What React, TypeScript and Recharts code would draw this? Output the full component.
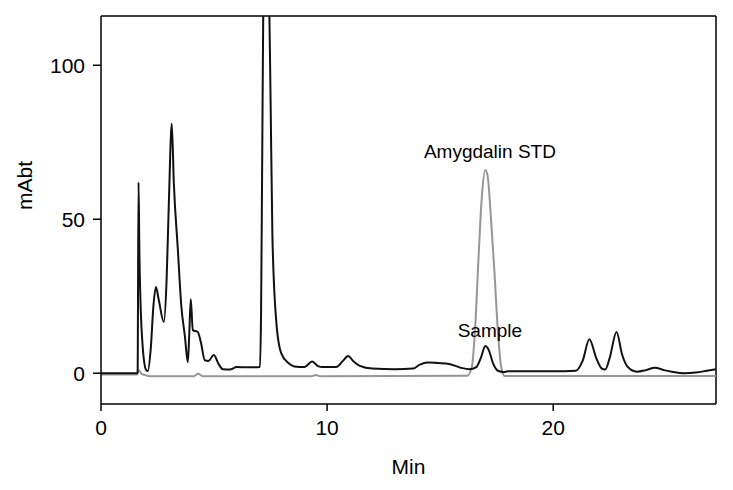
import {
  LineChart,
  Line,
  XAxis,
  YAxis,
  ReferenceLine,
  ReferenceDot,
} from "recharts";

// retention time (min) / absorbance (mAbt)
const sampleTime = [
  0, 1.6, 1.62, 1.66, 1.7, 1.74, 1.85, 2.0, 2.07, 2.2, 2.32, 2.43, 2.55, 2.78,
  2.9, 3.0, 3.13, 3.22, 3.4, 3.55, 3.71, 3.84, 3.9, 3.97, 4.06, 4.28, 4.42,
  4.59, 4.75, 4.99, 5.2, 5.39, 5.7, 6.0, 6.5, 7.03, 7.08, 7.13, 7.2, 7.3, 7.42,
  7.5, 7.58, 7.75, 7.97, 8.3, 8.55, 9.0, 9.34, 9.6, 9.8, 10.4, 10.7, 10.93,
  11.15, 11.45, 12, 13, 13.8, 14.1, 14.45, 14.9, 15.4, 15.9, 16.3, 16.6, 16.8,
  17.0, 17.15, 17.35, 17.55, 17.8, 18, 20, 21.0, 21.3, 21.6, 21.9, 22.15, 22.3,
  22.5, 22.8, 23.05, 23.3, 23.7, 24.1, 24.5, 24.9, 25.3, 25.8, 26.3, 26.8, 27.2,
];
const sampleSignal = [
  0, 0, 0.5, 62, 38, 25, 8, 1, 0.7, 8, 22, 28, 24, 16.6,
  30, 55, 81, 62, 40, 22, 12, 3.6, 12, 24, 14, 13.4, 10,
  4.2, 4, 5.9, 3, 1.3, 1.2, 2, 1.9, 2, 20, 70, 140, 170, 130,
  89, 45, 17, 6.5, 3.2, 2.2, 2, 3.8, 2.3, 2, 2, 4, 5.6,
  4, 2.4, 1.5, 1.3, 1.5, 2.8, 3.5, 3.3, 3, 1.8, 1.3, 2, 5,
  8.8, 7.5, 3, 0.8, 0.4, 0.6, 0.6, 0.8, 4, 11, 5, 1.5, 1.2,
  5, 13.4, 6, 2, 0.5, 1, 1.8, 1, 0.4, 0, 0.2, 0.8, 1.3,
];

const stdTime = [
  0, 1.6, 1.68, 1.8, 2.0, 2.2, 4.1, 4.3, 4.5, 9.3, 9.5, 9.7, 16.2, 16.4, 16.55,
  16.7, 16.85, 17.0, 17.1, 17.25, 17.4, 17.55, 17.7, 17.85, 27.2,
];
const stdSignal = [
  -0.4, -0.4, 1, -0.3, -0.7, -1, -1, -0.2, -1, -1, -0.6, -1, -0.8, 2, 15,
  38, 58, 66, 64, 50, 33, 14, 2, -0.9, -0.9,
];

const sampleData = sampleTime.map((t, i) => ({ t, v: sampleSignal[i] }));
const stdData = stdTime.map((t, i) => ({ t, v: stdSignal[i] }));

const font = "'Liberation Sans', Arial, sans-serif";

const App = () => {
  return (
    <div style={{ position: "absolute", left: 0, top: 0, fontFamily: font }}>
      <LineChart
        width={733}
        height={490}
        margin={{ top: 16, right: 17, left: 0, bottom: 0 }}
      >
        <XAxis
          type="number"
          dataKey="t"
          domain={[0, 27.2]}
          ticks={[0, 10, 20]}
          allowDataOverflow
          height={86}
          stroke="#000"
          strokeWidth={1.5}
          tickSize={7}
          tickMargin={9}
          tick={{ fill: "#000", fontSize: 21, fontFamily: font }}
          label={{
            value: "Min",
            position: "insideBottom",
            offset: 16,
            fill: "#000",
            fontSize: 21,
            fontFamily: font,
          }}
        />
        <YAxis
          type="number"
          domain={[-10, 116]}
          ticks={[0, 50, 100]}
          allowDataOverflow
          width={101}
          stroke="#000"
          strokeWidth={1.5}
          tickSize={8}
          tickMargin={8}
          tick={{ fill: "#000", fontSize: 21, fontFamily: font }}
          label={{
            value: "mAbt",
            angle: -90,
            position: "insideLeft",
            offset: 25,
            fill: "#000",
            fontSize: 21,
            fontFamily: font,
          }}
        />
        <ReferenceLine y={116} stroke="#000" strokeWidth={1.5} />
        <ReferenceLine x={27.2} stroke="#000" strokeWidth={1.5} />
        <Line
          data={stdData}
          dataKey="v"
          type="monotone"
          stroke="#969696"
          strokeWidth={2}
          dot={false}
          isAnimationActive={false}
        />
        <Line
          data={sampleData}
          dataKey="v"
          type="monotone"
          stroke="#111"
          strokeWidth={2}
          dot={false}
          isAnimationActive={false}
        />
        <ReferenceDot
          x={17.2}
          y={72}
          r={0}
          label={{
            value: "Amygdalin STD",
            position: "center",
            fill: "#000",
            fontSize: 19,
            fontFamily: font,
          }}
        />
        <ReferenceDot
          x={17.2}
          y={14}
          r={0}
          label={{
            value: "Sample",
            position: "center",
            fill: "#000",
            fontSize: 19,
            fontFamily: font,
          }}
        />
      </LineChart>
    </div>
  );
};

export default App;
